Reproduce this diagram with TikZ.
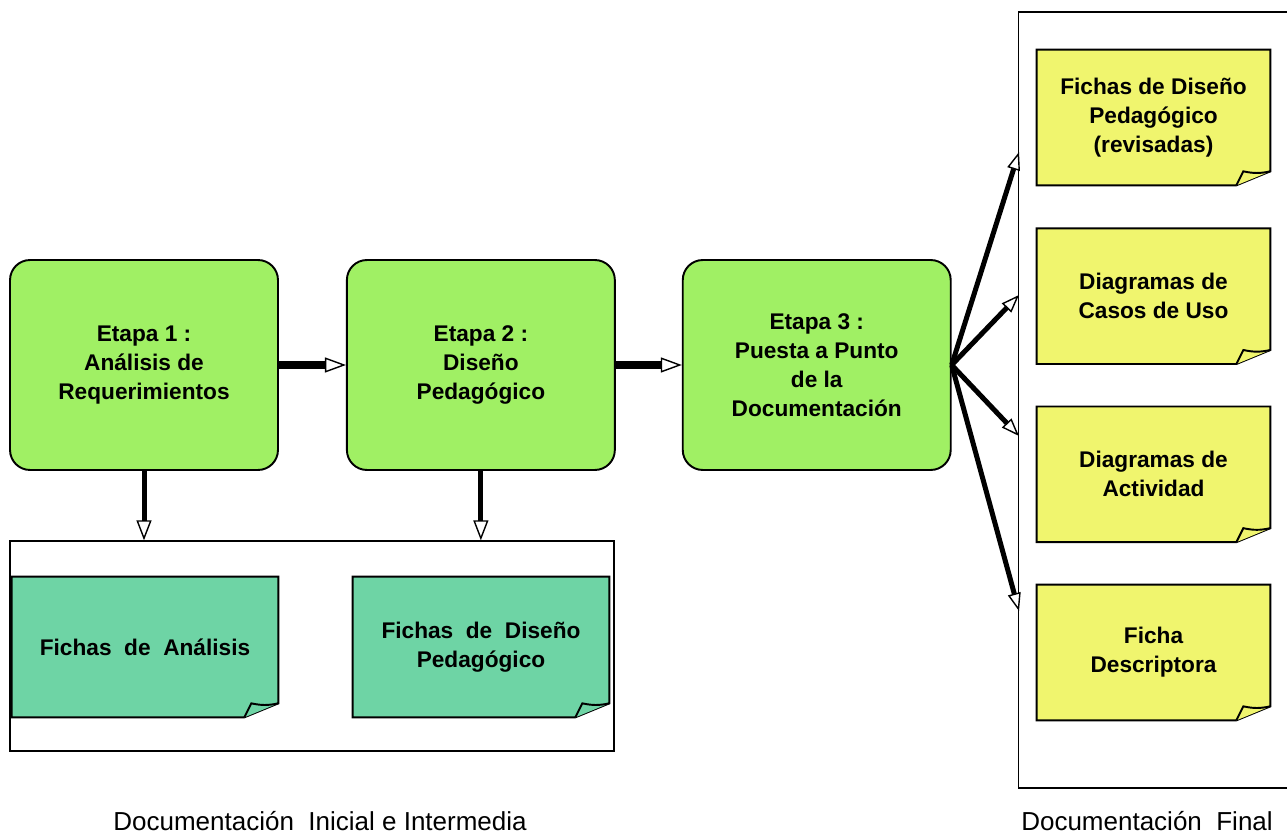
\documentclass[tikz,border=0pt]{standalone}
\usepackage{fontspec}
\setmainfont{Liberation Sans}
\usepackage{xcolor}
\usetikzlibrary{arrows.meta}
\usetikzlibrary{positioning}

\definecolor{verde}{RGB}{160,240,100}
\definecolor{turquesa}{RGB}{110,212,165}
\definecolor{amarillo}{RGB}{240,245,110}

\pgfdeclarelayer{fondo}
\pgfsetlayers{fondo,main}

% hoja con la esquina doblada, dibujada alrededor de un nodo
\newcommand{\doblar}[2]{%
  \draw[line width=1.1pt,fill=#2] (#1.north west) -- (#1.north east)
    -- ([yshift=0.28cm]#1.south east) -- ([xshift=-0.68cm]#1.south east)
    -- (#1.south west) -- cycle;
  \draw[line width=1.1pt,fill=#2] ([xshift=-0.68cm]#1.south east)
    -- ([xshift=-0.54cm,yshift=0.28cm]#1.south east)
    to[bend right=12] ([yshift=0.28cm]#1.south east);
}

\tikzset{
  etapa/.style={draw,line width=1.1pt,rounded corners=0.4cm,fill=verde,
    minimum width=5.36cm,minimum height=4.2cm,align=center,
    font=\bfseries\fontsize{12.9}{16.5}\selectfont},
  hoja/.style={inner sep=0pt,minimum height=2.7cm,align=center,
    font=\bfseries\fontsize{12.9}{16.5}\selectfont},
  caja/.style={draw,line width=0.8pt,inner sep=0pt},
  flecha/.style={line width=0.15cm,
    -{Triangle[fill=white,line width=0.8pt,length=0.42cm,width=0.3cm]}},
  bajada/.style={line width=0.1cm,
    -{Triangle[fill=white,line width=0.8pt,length=0.4cm,width=0.3cm]}},
  rayo/.style={line width=0.1cm,
    -{Triangle[fill=white,line width=0.8pt,length=0.36cm,width=0.26cm]}},
  rotulo/.style={font=\fontsize{14.8}{18}\selectfont}
}

\begin{document}
\begin{tikzpicture}[x=0.02cm,y=-0.02cm]
  \useasboundingbox (0,0) rectangle (1287,837);

  \node[etapa] (e1) at (144,365) {Etapa 1 :\\ Análisis de\\ Requerimientos};
  \node[etapa] (e2) [right=1.34cm of e1] {Etapa 2 :\\ Diseño\\ Pedagógico};
  \node[etapa] (e3) [right=1.32cm of e2] {Etapa 3 :\\ Puesta a Punto\\ de la\\ Documentación};

  \node[caja,minimum width=12.08cm,minimum height=4.2cm] (doc1) at (312,646) {};
  \node[caja,minimum width=5.5cm,minimum height=15.52cm] (doc2) at (1156,400) {};

  \node[hoja,minimum height=2.8cm,minimum width=5.32cm] (a1) at (145,647) {Fichas\ \ de\ \ Análisis};
  \node[hoja,minimum height=2.8cm,minimum width=5.12cm] (a2) at (481,647) {Fichas\ \ de\ \ Diseño\\ Pedagógico};

  \node[hoja,minimum width=4.66cm] (f1) at (1153.5,117.5) {Fichas de Diseño\\ Pedagógico\\ (revisadas)};
  \node[hoja,minimum width=4.66cm] (f2) [below=0.86cm of f1] {Diagramas de\\ Casos de Uso};
  \node[hoja,minimum width=4.66cm] (f3) [below=0.85cm of f2] {Diagramas de\\ Actividad};
  \node[hoja,minimum width=4.66cm] (f4) [below=0.85cm of f3] {Ficha\\ Descriptora};

  \begin{pgfonlayer}{fondo}
    \doblar{a1}{turquesa}
    \doblar{a2}{turquesa}
    \doblar{f1}{amarillo}
    \doblar{f2}{amarillo}
    \doblar{f3}{amarillo}
    \doblar{f4}{amarillo}
  \end{pgfonlayer}

  \node[rotulo] (t1) at (320,821) {Documentación\ \ Inicial e Intermedia};
  \node[rotulo] (t2) at (1147,821) {Documentación\ \ Final};

  \coordinate (p1) at (1019,152);
  \coordinate (p2) at (1019,295);
  \coordinate (p3) at (1019,436);
  \coordinate (p4) at (1019,611);

  \draw[flecha] (e1) -- (e2);
  \draw[flecha] (e2) -- (e3);
  \draw[bajada] (e1.south) -- (e1.south |- doc1.north);
  \draw[bajada] (e2.south) -- (e2.south |- doc1.north);
  \draw[rayo] (e3.east) -- (p1);
  \draw[rayo] (e3.east) -- (p2);
  \draw[rayo] (e3.east) -- (p3);
  \draw[rayo] (e3.east) -- (p4);
\end{tikzpicture}
\end{document}
